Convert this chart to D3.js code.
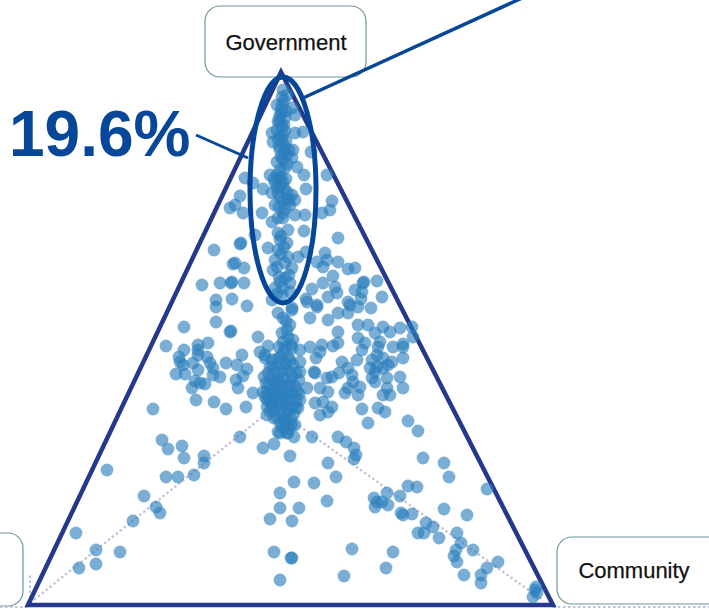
<!DOCTYPE html>
<html>
<head>
<meta charset="utf-8">
<script src="https://cdn.jsdelivr.net/npm/d3@7"></script>
<style>
html,body{margin:0;padding:0;background:#fff;overflow:hidden}
svg{display:block}
text{font-family:"Liberation Sans",Arial,sans-serif}
</style>
</head>
<body>
<svg id="c" width="709" height="609"></svg>
<script>
// Each point: [lean toward Community (+) / the left corner (-), pull toward Government]
const topStem = [[2,515],[1,508],[6,510],[-4,500],[1,500],[11,497],[14,490],[1,492],[4,487],[-3,483],[1,478],[-9,472],[-4,475],[14,472],[22,473],[-8,463],[2,470],[1,463],[4,458],[-1,455],[12,455],[30,453],[6,450],[2,445],[-4,443],[11,447],[-1,490],[3,480],[-1,468],[3,453],[0,495],[3,504],[-2,486],[5,494],[-1,482],[4,474],[-3,466],[5,464],[-2,459],[6,441],[0,448],[8,455]];
const midStem = [[-36,427],[-28,422],[-18,416],[-41,409],[-46,400],[-51,397],[-38,392],[-19,392],[-11,430],[-4,430],[-1,435],[4,437],[16,438],[23,430],[46,430],[25,416],[-6,422],[-1,418],[-9,412],[-3,412],[6,413],[11,410],[-6,400],[9,400],[14,405],[2,392],[-3,387],[14,390],[24,390],[-9,383],[2,387],[7,375],[23,374],[51,404],[49,395],[41,392],[57,367],[-3,372],[-1,365],[6,362],[-41,361],[-40,362],[-26,370],[-67,355],[-13,357],[-3,355],[-6,345],[7,348],[17,348],[25,353],[-8,335],[-48,341],[-46,342],[-37,337],[-4,338],[11,337],[8,330],[-1,323],[9,322],[-6,317],[2,317],[-9,305],[1,310],[9,313],[25,306],[31,316],[36,343],[44,352],[46,345],[42,338],[57,343],[67,336],[74,337],[52,329],[42,322],[54,318],[47,308],[56,312],[82,322],[74,315],[81,313],[67,303],[36,300],[11,297],[-79,320],[-61,322],[-50,322],[-49,323],[-37,322],[-49,306],[-65,305],[-65,298],[-34,299],[-65,283],[96,324],[83,323],[101,308],[90,297],[80,306],[0,428],[-7,426],[2,423],[-2,425],[5,426],[-4,417],[3,417],[8,405],[2,404],[-2,398],[4,396],[6,406],[-1,408],[0,369],[3,358],[0,351],[4,342],[-2,328],[4,327],[-4,311]];
const rightCluster = [[29,287],[47,285],[36,298],[26,303],[57,292],[67,292],[69,300],[77,298],[77,280],[87,280],[94,272],[102,278],[109,273],[119,277],[131,278],[132,268],[57,273],[57,262],[52,259],[29,258],[41,260],[39,253],[35,247],[77,267],[84,262],[81,255],[99,263],[97,258],[112,258],[122,261],[122,258],[122,247],[76,245],[91,245],[96,250],[102,247],[111,243],[96,238],[102,237],[107,240],[89,237],[94,233],[91,227],[94,223],[106,227],[119,228],[122,217],[106,217],[102,210],[109,210],[61,243],[67,237],[58,232],[51,228],[46,227],[71,230],[72,223],[79,218],[64,212],[67,217],[77,210],[33,233],[34,232],[39,217],[47,213],[42,203],[34,202],[51,198],[47,193],[39,190],[81,196],[97,197],[104,193],[87,182],[127,184],[137,174],[19,243],[19,233],[26,217]];
const leftCluster = [[-97,278],[-51,273],[-50,274],[-23,268],[-115,259],[-97,255],[-83,260],[-73,262],[-83,255],[-83,250],[-102,248],[-101,243],[-98,240],[-105,231],[-96,231],[-88,242],[-83,235],[-74,248],[-71,242],[-68,237],[-55,242],[-44,240],[-39,250],[-34,236],[-38,229],[-45,225],[-43,217],[-61,228],[-68,230],[-86,224],[-89,217],[-81,222],[-76,221],[-85,205],[-67,203],[-55,196],[-35,198],[-28,212],[-128,196],[-21,253],[-13,259],[-16,250]];
const centreMass = [[-3,292],[11,295],[2,287],[9,280],[6,275],[7,268],[2,263],[12,265],[4,257],[11,257],[19,255],[-1,248],[7,248],[-11,238],[-9,245],[-16,247],[-17,228],[-18,213],[-14,205],[-14,198],[-8,238],[-2,240],[5,241],[12,240],[-6,232],[1,233],[8,234],[15,232],[-10,226],[-3,227],[4,226],[11,228],[18,225],[-12,220],[-6,219],[1,220],[7,219],[14,219],[-9,213],[-2,214],[5,213],[12,212],[18,211],[-12,207],[-5,206],[2,207],[9,206],[15,204],[-9,200],[-2,200],[5,200],[11,198],[17,197],[-7,194],[0,193],[7,192],[13,191],[-4,188],[3,187],[10,186],[-1,182],[5,181],[11,180],[-3,173],[7,172],[14,180],[13,168],[4,177],[6,172],[-1,172],[3,185],[-13,232],[-15,222],[-14,214],[-16,208],[-10,202],[-11,194],[-7,187],[1,200],[3,210],[-1,222],[3,236],[9,222],[16,214],[15,198],[19,205],[-6,212],[6,195],[1,178],[8,178],[-2,206],[-5,224],[8,210],[-14,190],[9,245],[2,252],[-2,258],[1,272],[5,284],[10,260],[-4,246]];
const lowerStem = [[-18,157],[-7,161],[9,149],[13,123],[-1,112],[-1,97],[18,97],[-11,86],[11,84],[-7,53],[10,47],[11,47],[-1,25]];
const leftArm = [[-119,165],[-113,156],[-99,159],[-97,147],[-77,149],[-77,142],[-41,168],[-115,128],[-103,128],[-87,130],[-174,135],[-137,109],[-125,98],[-121,92],[-148,84],[-205,72],[-185,55],[-161,53],[-185,41],[-202,37]];
const rightArm = [[31,168],[57,168],[65,163],[73,157],[75,150],[73,146],[142,147],[163,142],[168,128],[206,116],[47,142],[55,128],[33,122],[46,104],[127,119],[136,118],[106,112],[119,109],[93,107],[96,103],[101,103],[107,100],[94,98],[120,92],[122,90],[131,91],[163,96],[186,90],[145,82],[152,78],[137,72],[143,72],[158,67],[176,72],[180,62],[175,55],[192,55],[173,49],[176,43],[217,43],[206,37],[200,30],[200,22],[183,30],[71,56],[112,53],[105,37],[63,29],[255,18],[256,12],[252,8],[254,15]];
const cornerLabels = ["Government", "Community"];
const highlightLabel = "19.6%";

const points = [].concat(topStem, midStem, rightCluster, leftCluster, centreMass, lowerStem, leftArm, rightArm);

const x = d3.scaleLinear().domain([-253, 272]).range([28, 553]);
const y = d3.scaleLinear().domain([0, 533]).range([605, 72]);
const svg = d3.select("#c");

const defs = svg.append("defs");
defs.append("filter").attr("id","soft").attr("x","-5%").attr("y","-5%").attr("width","110%").attr("height","110%")
  .append("feGaussianBlur").attr("stdDeviation",0.55);

// Corner boxes
const boxes = [
  {x:205, y:6, w:161, h:71, t:cornerLabels[0], tx:286, ty:50},
  {x:557, y:537, w:170, h:67, t:cornerLabels[1], tx:634, ty:578},
  {x:-60, y:533, w:83, h:73, t:null}
];
svg.selectAll("rect.box").data(boxes).join("rect")
  .attr("class","box")
  .attr("x",d=>d.x).attr("y",d=>d.y).attr("width",d=>d.w).attr("height",d=>d.h)
  .attr("rx",15).attr("fill","#fff").attr("stroke","#6f969d").attr("stroke-width",1.2);
svg.selectAll("text.corner").data(boxes.filter(d=>d.t)).join("text")
  .attr("class","corner")
  .attr("x",d=>d.tx).attr("y",d=>d.ty).attr("text-anchor","middle")
  .attr("font-size",22).attr("fill","#111").attr("stroke","#111").attr("stroke-width",0.25).text(d=>d.t);

// Dotted guides
const guide = d3.line();
const guides = [
  [[x(-251),y(2)],[x(-10),y(195)]],
  [[x(10),y(185)],[x(260),y(6)]],
  [[x(-251),y(2)],[x(-251),y(30)]],
  [[0,607],[x(-253),607]],
  [[x(272),607],[709,607]]
];
svg.selectAll("path.guide").data(guides).join("path")
  .attr("class","guide").attr("d",guide).attr("fill","none")
  .attr("stroke","#c3bfd9").attr("stroke-width",2.2).attr("stroke-dasharray","2.5 2.5");

// Triangle frame
svg.append("path")
  .attr("d", guide([[x(0),y(533)],[x(-253),y(0)],[x(272),y(0)]])+"Z")
  .attr("fill","none").attr("stroke","#24398b").attr("stroke-width",4.5).attr("stroke-linejoin","miter");

// Points
svg.append("g").attr("filter","url(#soft)")
  .selectAll("circle.pt").data(points).join("circle")
  .attr("class","pt")
  .attr("cx",d=>x(d[0])).attr("cy",d=>y(d[1])).attr("r",6.4)
  .attr("fill","#2a7ebd").attr("fill-opacity",0.63);

// Highlight ellipse and leaders
svg.append("ellipse")
  .attr("cx",x(2)).attr("cy",y(415)).attr("rx",33).attr("ry",113)
  .attr("fill","none").attr("stroke","#06479a").attr("stroke-width",5);
svg.append("path").attr("d",guide([[x(22),y(507)],[x(252),y(612)]]))
  .attr("stroke","#06479a").attr("stroke-width",3.5).attr("fill","none");
svg.append("path").attr("d",guide([[x(-85),y(470)],[x(-33),y(447)]]))
  .attr("stroke","#06479a").attr("stroke-width",3).attr("fill","none");
svg.append("text").attr("x",9).attr("y",156)
  .attr("font-size",64).attr("font-weight","bold").attr("fill","#06479a").text(highlightLabel);
</script>
</body>
</html>
